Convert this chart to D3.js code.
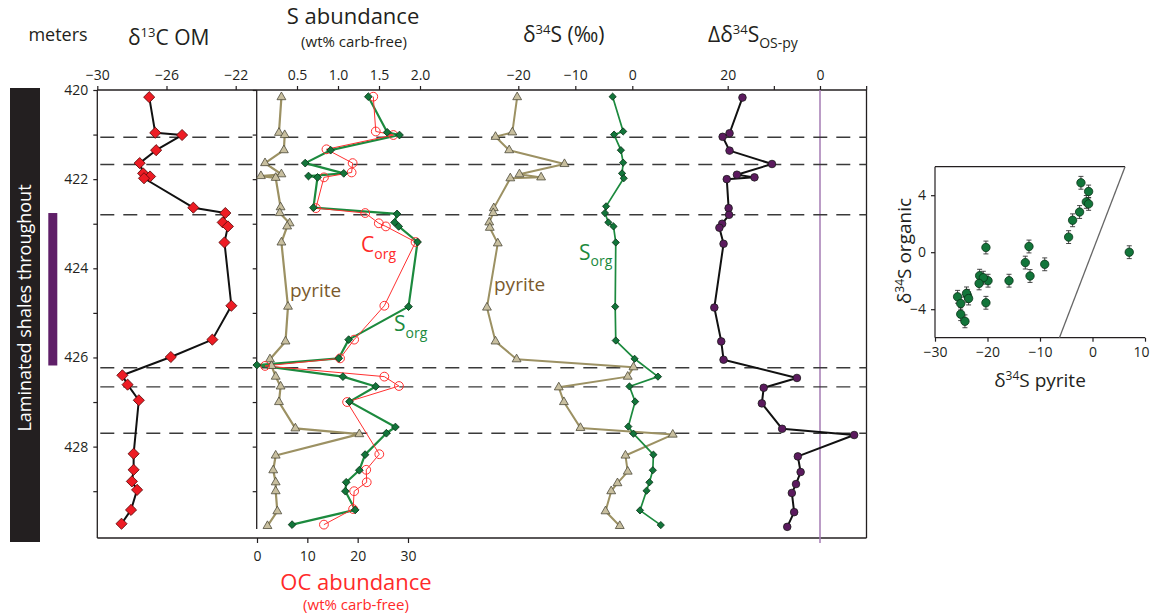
<!DOCTYPE html>
<html><head><meta charset="utf-8">
<script src="https://cdn.jsdelivr.net/npm/d3@7"></script>
<style>
body{margin:0;background:#fff;}
svg{display:block;font-family:"Open Sans","Noto Sans",sans-serif;}
.ax text{font-size:14px;fill:#231f20;font-family:"Open Sans",sans-serif;}
.ax line{stroke:#231f20;stroke-width:1.2;}
</style>
</head><body>
<svg id="c" width="1151" height="615"></svg>
<script>
// ---------------- DATA ----------------
const depthTicks = [420,421,422,423,424,425,426,427,428,429];
const depthLabels = [420,422,424,426,428];
const boundaryDepths = [421.06, 421.67, 422.8, 426.23, 426.66, 427.7];

const c13Ticks = [-30,-26,-22];
const c13Depth = [420.16,420.96,421.01,421.35,421.64,421.87,421.94,421.98,422.64,422.76,422.97,423.06,423.42,424.84,425.60,425.99,426.40,426.61,426.96,428.16,428.52,428.78,428.97,429.42,429.73];
const c13Val   = [-27.0,-26.65,-25.1,-26.6,-27.55,-27.35,-26.95,-27.3,-24.45,-22.6,-22.75,-22.45,-22.65,-22.25,-23.35,-25.75,-28.55,-28.25,-27.6,-27.9,-27.9,-28.0,-27.7,-28.05,-28.6];

const sTicks = [0.5,1.0,1.5,2.0];
const ocTicks = [0,10,20,30];
const pyDepth = [420.16,420.96,421.01,421.35,421.64,421.89,421.93,421.97,422.63,422.76,422.99,423.06,423.42,424.86,425.64,426.04,426.19,426.43,426.65,427.0,427.59,427.72,428.2,428.53,428.8,429.0,429.45,429.78];
const pyS     = [0.31,0.28,0.35,0.34,0.11,0.31,0.06,0.24,0.30,0.29,0.41,0.38,0.31,0.39,0.36,0.17,0.19,0.24,0.30,0.28,0.48,1.26,0.24,0.21,0.24,0.24,0.26,0.14];
const sorgDepth = [420.15,420.95,421.01,421.35,421.64,421.87,421.93,421.96,422.64,422.78,422.97,423.06,423.41,424.86,425.60,426.02,426.17,426.43,426.65,426.99,427.56,427.70,428.18,428.53,428.80,429.0,429.42,429.75];
const sorgS     = [1.37,1.60,1.75,0.91,0.60,1.07,0.64,0.75,0.70,1.72,1.69,1.74,1.97,1.86,1.13,1.01,0.01,1.06,1.46,1.14,1.70,1.59,1.33,1.26,1.10,1.09,1.21,0.44];
const corgDepth = [420.15,420.93,421.01,421.33,421.64,421.85,421.96,422.65,422.76,422.99,423.06,423.41,424.84,425.60,426.02,426.19,426.43,426.64,427.0,428.17,428.52,428.80,429.0,429.40,429.75];
const corgOC    = [23.1,23.6,27.1,13.8,19.0,18.8,13.3,11.7,21.5,24.2,25.6,31.5,25.3,19.3,16.5,1.6,25.3,28.2,17.9,24.3,21.7,21.8,19.3,19.1,13.3];

const d34Ticks = [-20,-10,0];
const pyD34Depth = [420.16,420.95,421.05,421.35,421.66,421.89,421.96,421.98,422.65,422.76,422.97,423.09,423.44,424.88,425.64,426.04,426.22,426.43,426.67,427.0,427.58,427.73,428.2,428.56,428.82,429.0,429.45,429.78];
const pyD34Val   = [-20.2,-21.05,-24.0,-21.6,-11.9,-19.8,-16.0,-21.4,-24.3,-24.4,-25.1,-25.0,-23.6,-25.5,-24.0,-20.3,0.2,-0.8,-12.9,-12.0,-9.1,7.1,-1.2,-0.8,-2.6,-3.7,-4.7,-2.2];
const orgD34Depth = [420.15,420.93,421.0,421.35,421.63,421.87,421.98,422.61,422.76,422.97,423.06,423.42,424.86,425.62,426.03,426.43,426.65,426.99,427.55,427.71,428.18,428.53,428.8,428.99,429.43,429.76];
const orgD34Val   = [-3.45,-1.6,-3.2,-2.0,-1.6,-1.8,-1.5,-4.6,-4.8,-4.2,-3.3,-2.9,-3.0,-2.9,0.4,4.5,-0.5,0.5,-0.7,0.2,3.7,3.6,3.0,2.5,1.35,5.0];

const deltaTicks = [20,10,0,-10];
const deltaLabels = [20,0];
const deltaDepth = [420.17,420.97,421.05,421.36,421.66,421.9,421.96,422.0,422.65,422.8,423.0,423.09,423.45,424.88,425.64,426.05,426.46,426.68,427.03,427.6,427.74,428.22,428.57,428.84,429.04,429.47,429.8];
const deltaVal   = [16.8,19.6,21.1,19.6,10.4,18.0,14.2,20.2,19.8,19.7,21.2,21.8,20.9,22.9,21.4,20.9,5.0,12.2,12.6,8.2,-7.4,4.8,4.2,5.2,6.1,5.6,7.1];

// inset cross-plot
const insetXTicks = [-30,-20,-10,0,10];
const insetYTicks = [-4,0,4];
const insetPy  = [-2.2,-0.74,-1.18,-0.74,-2.46,-3.79,-4.55,7.0,-20.3,-12.1,-12.8,-9.1,-11.9,-15.9,-19.9,-21.5,-20.8,-21.6,-20.3,-25.7,-23.8,-24.0,-25.1,-25.1,-24.3,-23.6];
const insetOrg = [4.87,4.26,3.53,3.39,2.82,2.24,1.06,0.0,0.33,0.40,-0.73,-0.85,-1.67,-2.0,-2.0,-1.65,-1.79,-2.19,-3.55,-3.13,-3.06,-2.89,-3.6,-4.35,-4.85,-3.25];
const insetErr = 0.45;
const oneToOneX = [-6.3, 6.2];
const oneToOneY = [-6, 6];

// ---------------- SCALES ----------------
const svg = d3.select("#c");
const INK = "#231f20";
const y = d3.scaleLinear().domain([420, 430.05]).range([90, 538]);
const xC13 = d3.scaleLinear().domain([-30,-22]).range([97.3,235.7]);
const xS = d3.scaleLinear().domain([0,2]).range([256,420]);
const xOC = d3.scaleLinear().domain([0,30]).range([257,408]);
const xD34 = d3.scaleLinear().domain([-20,0]).range([518.3,632.3]);
const xDel = d3.scaleLinear().domain([20,0]).range([727.7,820]);
const xI = d3.scaleLinear().domain([-30,10]).range([935,1145]);
const yI = d3.scaleLinear().domain([-6,6]).range([337.7,166.7]);

const X0 = 97.3, X1 = 866.5, Y0 = y(420), Y1 = y(430.05);

// ---------------- LEFT BARS ----------------
svg.append("rect").attr("x",10).attr("y",88).attr("width",30).attr("height",454).attr("fill",INK);
svg.append("text").attr("transform","translate(31,308) rotate(-90)").attr("text-anchor","middle")
  .attr("fill","#fff").attr("font-size",18).text("Laminated shales throughout");
svg.append("rect").attr("x",48.3).attr("y",y(422.76)).attr("width",9).attr("height",y(426.18)-y(422.76)).attr("fill","#5f1f68");

// ---------------- FRAME & AXES ----------------
const frame = svg.append("g").attr("stroke",INK).attr("stroke-width",1.3).attr("fill","none");
frame.append("line").attr("x1",X0).attr("x2",X1).attr("y1",Y0).attr("y2",Y0);
frame.append("line").attr("x1",X0).attr("x2",X1).attr("y1",Y1).attr("y2",Y1);
frame.append("line").attr("x1",X0).attr("x2",X0).attr("y1",Y0).attr("y2",Y1);
frame.append("line").attr("x1",X1).attr("x2",X1).attr("y1",Y0).attr("y2",Y1);
frame.append("line").attr("x1",xS(0)+0.7).attr("x2",xS(0)+0.7).attr("y1",Y0).attr("y2",y(429.85));

function clean(g){ g.select(".domain").remove(); g.attr("class","ax"); }

svg.append("g").attr("transform",`translate(${X0},0)`)
  .call(d3.axisLeft(y).tickValues(depthTicks).tickSize(4).tickPadding(5)
    .tickFormat(d => depthLabels.includes(d) ? d : "")).call(clean);
svg.append("g").attr("transform",`translate(${xS(0)+0.7},0)`)
  .call(d3.axisLeft(y).tickValues(depthTicks).tickSize(4).tickFormat("")).call(clean);

svg.append("g").attr("transform",`translate(0,${Y0})`)
  .call(d3.axisTop(xC13).tickValues(c13Ticks).tickSize(4).tickPadding(6)).call(clean);
svg.append("g").attr("transform",`translate(0,${Y0})`)
  .call(d3.axisTop(xS).tickValues(sTicks).tickSize(4).tickPadding(6).tickFormat(d3.format(".1f"))).call(clean);
svg.append("g").attr("transform",`translate(0,${Y0})`)
  .call(d3.axisTop(xD34).tickValues(d34Ticks).tickSize(4).tickPadding(6)).call(clean);
svg.append("g").attr("transform",`translate(0,${Y0})`)
  .call(d3.axisTop(xDel).tickValues(deltaTicks).tickSize(4).tickPadding(6)
    .tickFormat(d => deltaLabels.includes(d) ? d3.format("d")(d) : "")).call(clean);
svg.append("g").attr("transform",`translate(0,${Y1})`)
  .call(d3.axisBottom(xOC).tickValues(ocTicks).tickSize(5).tickPadding(8)).call(clean);

// zero line of Δδ34S
svg.append("line").attr("x1",xDel(0)).attr("x2",xDel(0)).attr("y1",Y0).attr("y2",Y1+5)
  .attr("stroke","#a57bb3").attr("stroke-width",1.5);

// dashed boundaries
svg.append("g").selectAll("line").data(boundaryDepths).join("line")
  .attr("x1",X0+3).attr("x2",X1).attr("y1",d=>y(d)).attr("y2",d=>y(d))
  .attr("stroke","#3a3a3a").attr("stroke-width",1.4).attr("stroke-dasharray","14,9");

// ---------------- HELPERS ----------------
function zip(ds, vs){ return ds.map((d,i)=>({d, v:vs[i]})); }
function path(data, xs, color, w){
  svg.append("path").datum(data).attr("fill","none").attr("stroke",color).attr("stroke-width",w)
    .attr("stroke-linejoin","round")
    .attr("d", d3.line().x(p=>xs(p.v)).y(p=>y(p.d)));
}
function marks(data, xs, sym, size, fill, stroke, rot, sw){
  const s = d3.symbol().type(sym).size(size)();
  svg.append("g").selectAll("path").data(data).join("path")
    .attr("d", s).attr("fill",fill).attr("stroke",stroke).attr("stroke-width",sw||0.8)
    .attr("transform", p=>`translate(${xs(p.v)},${y(p.d)}) rotate(${rot||0})`);
}

// ---------------- δ13C ----------------
const c13 = zip(c13Depth, c13Val);
path(c13, xC13, "#111", 2);
marks(c13, xC13, d3.symbolSquare, 62, "#ed1c24", "#5a0a0a", 45);

// ---------------- S abundance ----------------
const py = zip(pyDepth, pyS), so = zip(sorgDepth, sorgS), co = zip(corgDepth, corgOC);
path(py, xS, "#9c9163", 2.2);
path(so, xS, "#1c8a3e", 2.2);
path(co, xOC, "#ff3030", 1);
marks(py, xS, d3.symbolTriangle, 34, "#c8bf9f", "#4d4a3a");
svg.append("g").selectAll("circle").data(co).join("circle")
  .attr("cx",p=>xOC(p.v)).attr("cy",p=>y(p.d)).attr("r",4.4)
  .attr("fill","none").attr("stroke","#ff3030").attr("stroke-width",1);
marks(so, xS, d3.symbolSquare, 30, "#12753a", "#0a3318", 45);

// ---------------- δ34S ----------------
const pyd = zip(pyD34Depth, pyD34Val), ord = zip(orgD34Depth, orgD34Val);
path(pyd, xD34, "#9c9163", 2);
path(ord, xD34, "#1c8a3e", 1.7);
marks(pyd, xD34, d3.symbolTriangle, 34, "#c8bf9f", "#4d4a3a");
marks(ord, xD34, d3.symbolSquare, 26, "#12753a", "#0a3318", 45);

// ---------------- Δδ34S ----------------
const del = zip(deltaDepth, deltaVal);
path(del, xDel, "#111", 2);
svg.append("g").selectAll("circle").data(del).join("circle")
  .attr("cx",p=>xDel(p.v)).attr("cy",p=>y(p.d)).attr("r",3.8)
  .attr("fill","#5b1a5e").attr("stroke","#1a1a1a").attr("stroke-width",0.8);

// ---------------- TITLES ----------------
function txt(x, yy, size, anchor, color){
  return svg.append("text").attr("x",x).attr("y",yy).attr("font-size",size)
    .attr("text-anchor",anchor).attr("fill",color||INK);
}
txt(58,41,18,"middle").text("meters");
let t = txt(128,45,21,"start");
t.append("tspan").text("δ");
t.append("tspan").attr("font-size",13).attr("dy",-8).text("13");
t.append("tspan").attr("dy",8).text("C OM");
txt(353,24,22,"middle").text("S abundance");
txt(354,47,15,"middle").text("(wt% carb-free)");
t = txt(523,42,21,"start");
t.append("tspan").text("δ");
t.append("tspan").attr("font-size",13).attr("dy",-8).text("34");
t.append("tspan").attr("dy",8).text("S (‰)");
t = txt(708,42,21,"start");
t.append("tspan").text("Δδ");
t.append("tspan").attr("font-size",13).attr("dy",-8).text("34");
t.append("tspan").attr("dy",8).text("S");
t.append("tspan").attr("font-size",14).attr("dy",6).text("OS-py");
txt(356,590,22,"middle","#ff2a2a").text("OC abundance");
txt(356,610,15,"middle","#ff2a2a").text("(wt% carb-free)");

// in-panel labels
t = txt(361,252,21,"start","#ff2a2a");
t.append("tspan").text("C");
t.append("tspan").attr("font-size",14).attr("dy",7).text("org");
txt(290,297,19,"start","#7b5a2d").text("pyrite");
t = txt(394,331,21,"start","#1c8a3e");
t.append("tspan").text("S");
t.append("tspan").attr("font-size",14).attr("dy",7).text("org");
t = txt(579,260,21,"start","#1c8a3e");
t.append("tspan").text("S");
t.append("tspan").attr("font-size",14).attr("dy",6).text("org");
txt(494,291,19,"start","#7b5a2d").text("pyrite");

// ---------------- INSET ----------------
const ins = svg.append("g");
ins.append("g").attr("transform",`translate(0,${yI(-6)})`)
  .call(d3.axisBottom(xI).tickValues(insetXTicks).tickSize(4).tickPadding(5)).call(clean)
  .call(g => g.selectAll(".tick text").filter(d => d === 10).attr("dx", -4));
ins.append("g").attr("transform",`translate(${xI(-30)},0)`)
  .call(d3.axisLeft(yI).tickValues(insetYTicks).tickSize(4).tickPadding(5)).call(clean);
const fr = ins.append("g").attr("stroke",INK).attr("stroke-width",1.2);
fr.append("line").attr("x1",xI(-30)).attr("x2",xI(10)).attr("y1",yI(-6)).attr("y2",yI(-6));
fr.append("line").attr("x1",xI(-30)).attr("x2",xI(-30)).attr("y1",yI(-6)).attr("y2",yI(6));
fr.append("line").attr("x1",xI(-30)).attr("x2",xI(oneToOneX[1])).attr("y1",yI(6)).attr("y2",yI(6));
ins.append("line").attr("x1",xI(oneToOneX[0])).attr("y1",yI(oneToOneY[0]))
  .attr("x2",xI(oneToOneX[1])).attr("y2",yI(oneToOneY[1])).attr("stroke","#666").attr("stroke-width",1.3);
const ip = insetPy.map((v,i)=>({x:v, y:insetOrg[i]}));
const eb = ins.append("g").attr("stroke","#333").attr("stroke-width",0.9);
eb.selectAll("line.v").data(ip).join("line").attr("class","v")
  .attr("x1",p=>xI(p.x)).attr("x2",p=>xI(p.x)).attr("y1",p=>yI(p.y-insetErr)).attr("y2",p=>yI(p.y+insetErr));
eb.selectAll("line.t").data(ip).join("line").attr("class","t")
  .attr("x1",p=>xI(p.x)-2.5).attr("x2",p=>xI(p.x)+2.5).attr("y1",p=>yI(p.y+insetErr)).attr("y2",p=>yI(p.y+insetErr));
eb.selectAll("line.b").data(ip).join("line").attr("class","b")
  .attr("x1",p=>xI(p.x)-2.5).attr("x2",p=>xI(p.x)+2.5).attr("y1",p=>yI(p.y-insetErr)).attr("y2",p=>yI(p.y-insetErr));
ins.append("g").selectAll("circle").data(ip).join("circle")
  .attr("cx",p=>xI(p.x)).attr("cy",p=>yI(p.y)).attr("r",4.2)
  .attr("fill","#12753a").attr("stroke","#0a3318").attr("stroke-width",0.8);
t = txt(1040,387,19,"middle");
t.append("tspan").text("δ");
t.append("tspan").attr("font-size",12).attr("dy",-7).text("34");
t.append("tspan").attr("dy",7).text("S pyrite");
t = svg.append("text").attr("transform","translate(911,251) rotate(-90)").attr("text-anchor","middle")
  .attr("font-size",19).attr("fill",INK);
t.append("tspan").text("δ");
t.append("tspan").attr("font-size",12).attr("dy",-7).text("34");
t.append("tspan").attr("dy",7).text("S organic");
</script>
</body></html>
